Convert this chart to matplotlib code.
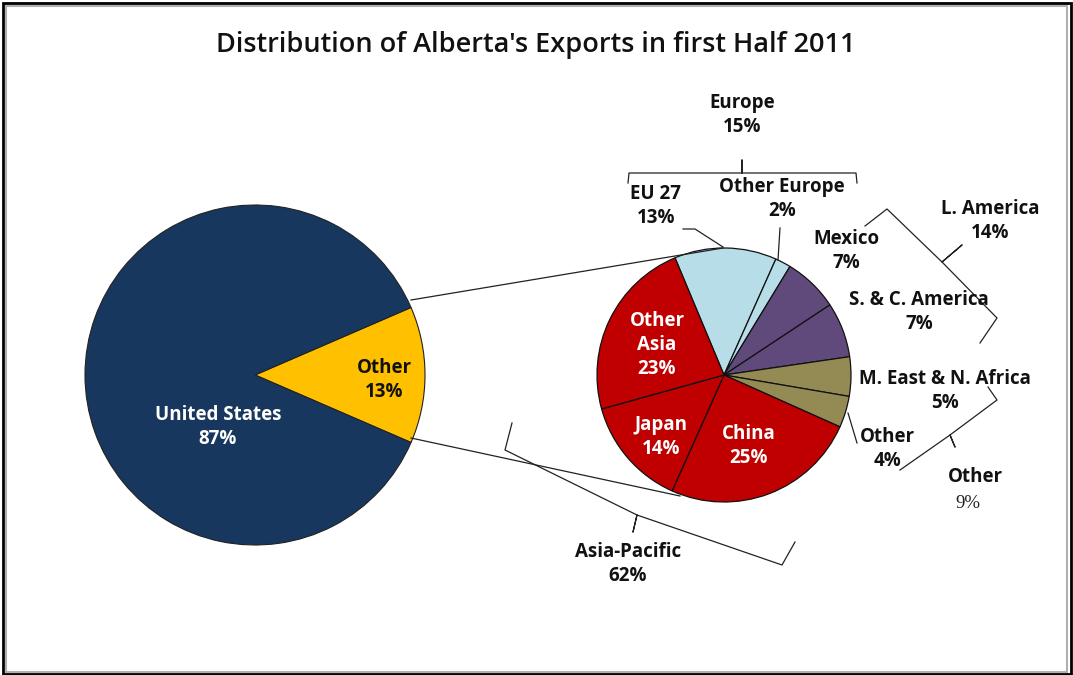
import matplotlib.pyplot as plt
from matplotlib.patches import Rectangle

# Data
main_labels = ['Other', 'United States']
main_values = [13, 87]

sub_labels = ['EU 27', 'Other Europe', 'Mexico', 'S. & C. America',
              'M. East & N. Africa', 'Other', 'China', 'Japan', 'Other Asia']
sub_values = [13, 2, 7, 7, 5, 4, 25, 14, 23]

group_labels = ['Europe', 'L. America', 'Other', 'Asia-Pacific']
group_values = [15, 14, 9, 62]

W, H = 1073, 675
plt.rcParams['font.family'] = ['Open Sans', 'DejaVu Sans']


def fy(y):
    # image pixel row -> data y
    return H - y


fig = plt.figure(figsize=(W / 100, H / 100), dpi=100)
ax = fig.add_axes([0, 0, 1, 1])

# --- main pie ---
main_colors = ['#FFC000', '#17375E']
ax.pie(main_values, colors=main_colors, startangle=main_values[0] / 100 * 180,
       counterclock=False, center=(255, fy(375)), radius=170, frame=True,
       wedgeprops=dict(edgecolor='#222222', linewidth=0.8))

# --- secondary pie ---
sub_colors = ['#B7DEE8', '#B7DEE8', '#604A7B', '#604A7B',
              '#948A54', '#948A54', '#C00000', '#C00000', '#C00000']
ax.pie(sub_values, colors=sub_colors, startangle=112.7, counterclock=False,
       center=(724, fy(375)), radius=127, frame=True,
       wedgeprops=dict(edgecolor='#111111', linewidth=0.9))

ax.set_xlim(0, W)
ax.set_ylim(0, H)
ax.set_aspect('equal')
ax.axis('off')

line_kw = dict(color='#222222', lw=0.9)


def poly(pts):
    ax.plot([p[0] for p in pts], [fy(p[1]) for p in pts], **line_kw)


# connector lines between pies
poly([(411, 300), (723, 248)])
poly([(411, 438), (680, 496)])

# title
ax.text(536, fy(45), "Distribution of Alberta's Exports in first Half 2011",
        ha='center', va='center', fontsize=19.5, fontweight='semibold',
        color='#111111')

lab_kw = dict(ha='center', va='center', fontsize=13.5, fontweight='bold',
              color='#111111', linespacing=1.3)
white_kw = dict(lab_kw, color='white')


def pct(v):
    return f'{v}%'


# main pie labels
ax.text(218, fy(427), f'{main_labels[1]}\n{pct(main_values[1])}', **white_kw)
ax.text(384, fy(380), f'{main_labels[0]}\n{pct(main_values[0])}', **lab_kw)

# secondary pie labels (inside)
ax.text(657, fy(345), f'Other\nAsia\n{pct(sub_values[8])}', **white_kw)
ax.text(661, fy(437), f'{sub_labels[7]}\n{pct(sub_values[7])}', **white_kw)
ax.text(749, fy(446), f'{sub_labels[6]}\n{pct(sub_values[6])}', **white_kw)

# secondary pie labels (outside)
ax.text(656, fy(206), f'{sub_labels[0]}\n{pct(sub_values[0])}', **lab_kw)
ax.text(782, fy(199), f'{sub_labels[1]}\n{pct(sub_values[1])}', **lab_kw)
ax.text(846, fy(251), f'{sub_labels[2]}\n{pct(sub_values[2])}', **lab_kw)
ax.text(919, fy(312), f'{sub_labels[3]}\n{pct(sub_values[3])}', **lab_kw)
ax.text(945, fy(391), f'{sub_labels[4]}\n{pct(sub_values[4])}', **lab_kw)
ax.text(887, fy(449), f'{sub_labels[5]}\n{pct(sub_values[5])}', **lab_kw)

# leader lines
poly([(683, 229), (695, 229), (723, 247)])
poly([(780, 228), (778, 260)])
poly([(848, 413), (857, 443)])

# group brackets
poly([(628, 183), (629, 173), (742, 173), (742, 160), (742, 173), (856, 173), (857, 183)])
poly([(865, 226), (887, 209), (942, 262), (962, 245), (942, 262), (997, 318), (980, 343)])
poly([(988, 387), (997, 400), (950, 435), (955, 447), (950, 435), (900, 470)])
poly([(512, 423), (505, 450), (637, 515), (633, 532), (637, 515), (782, 565), (795, 542)])

# group labels
ax.text(742, fy(115), f'{group_labels[0]}\n{pct(group_values[0])}', **lab_kw)
ax.text(990, fy(221), f'{group_labels[1]}\n{pct(group_values[1])}', **lab_kw)
ax.text(975, fy(477), group_labels[2], **lab_kw)
ax.text(968, fy(504), pct(group_values[2]), ha='center', va='center',
        fontsize=13.5, color='#222222', family='Liberation Serif')
ax.text(628, fy(564), f'{group_labels[3]}\n{pct(group_values[3])}', **lab_kw)

# frame
ax.add_patch(Rectangle((6, fy(672)), 1061, 666, fill=False,
                       edgecolor='#B0B0B0', lw=1.5))
ax.add_patch(Rectangle((2.5, fy(674)), 1068, 671, fill=False,
                       edgecolor='black', lw=2))

fig.savefig('out.png', dpi=100)
